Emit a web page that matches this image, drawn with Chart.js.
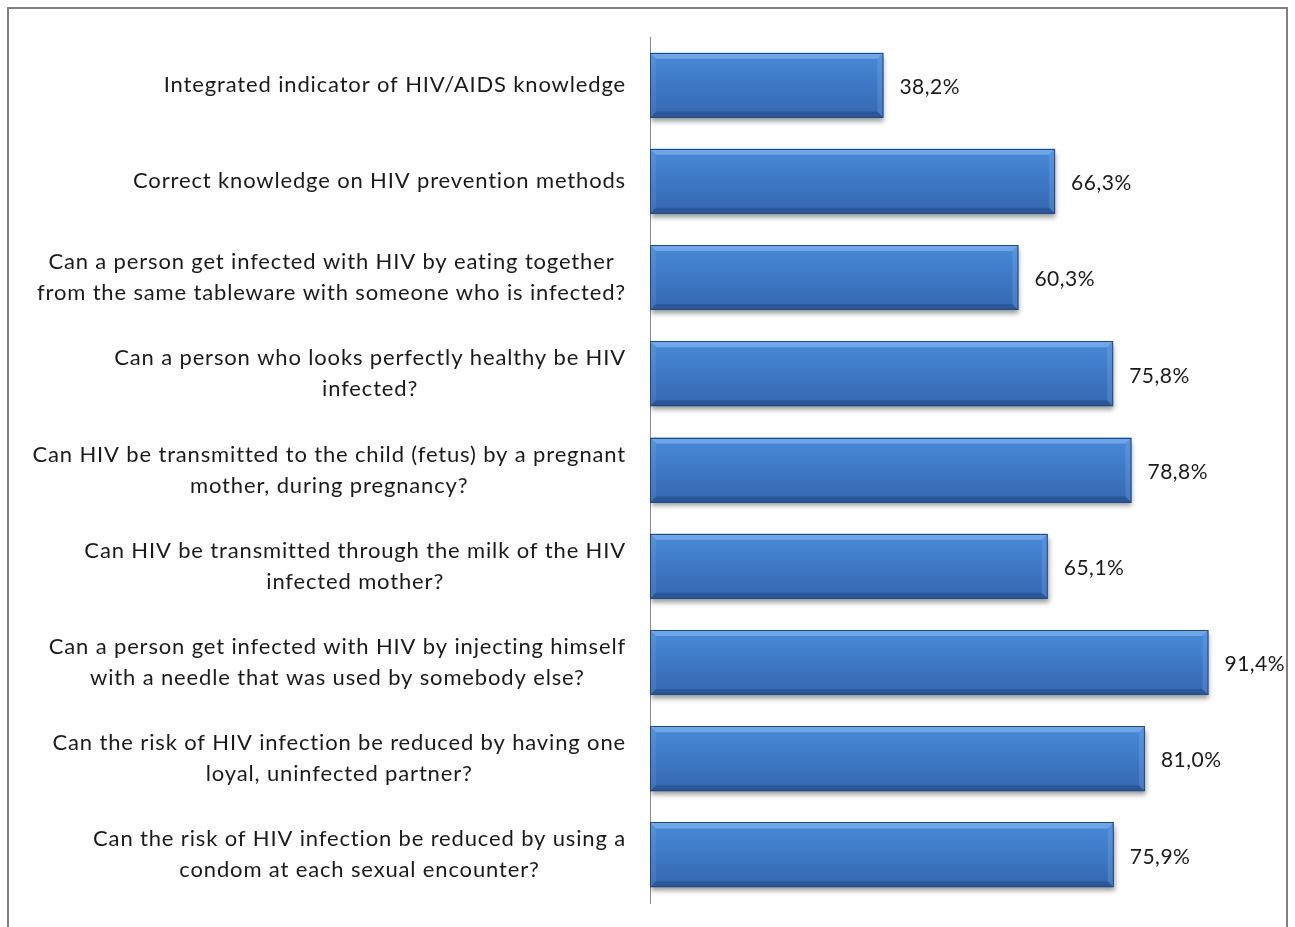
<!DOCTYPE html>
<html>
<head>
<meta charset="utf-8">
<script src="https://cdn.jsdelivr.net/npm/chart.js@4/dist/chart.umd.min.js"></script>
<style>
  html, body { margin: 0; padding: 0; background: #ffffff; overflow: hidden; }
  #frame { position: absolute; left: 7px; top: 7px; width: 1281px; height: 960px; border: 2px solid #808080; box-sizing: border-box; }
  #wrap { position: absolute; left: 0; top: 0; width: 1295px; height: 927px; }
</style>
</head>
<body>
<div id="frame"></div>
<div id="wrap"><canvas id="c" width="1295" height="927"></canvas></div>
<script>
const categories = [
  ["Integrated indicator of HIV/AIDS knowledge"],
  ["Correct knowledge on HIV prevention methods"],
  ["Can a person get infected with HIV by eating together", "from the same tableware with someone who is infected?"],
  ["Can a person who looks perfectly healthy be HIV", "infected?"],
  ["Can HIV be transmitted to the child (fetus) by a pregnant", "mother, during pregnancy?"],
  ["Can HIV be transmitted through the milk of the HIV", "infected mother?"],
  ["Can a person get infected with HIV by injecting himself", "with a needle that was used by somebody else?"],
  ["Can the risk of HIV infection be reduced by having one", "loyal, uninfected partner?"],
  ["Can the risk of HIV infection be reduced by using a", "condom at each sexual encounter?"]
];
const values = [38.2, 66.3, 60.3, 75.8, 78.8, 65.1, 91.4, 81.0, 75.9];
const valueLabels = values.map(v => v.toFixed(1).replace('.', ',') + '%');

const LABEL_FONT = '22px Lato, "Open Sans", sans-serif';
const VALUE_FONT = '21px Lato, "Open Sans", sans-serif';
const BAR_PCT = 0.675;

function barGradient(ctx) {
  const chart = ctx.chart;
  const ys = chart.scales.y;
  const ca = chart.chartArea;
  if (!ys || !ca) return '#3d75c2';
  const band = (ca.bottom - ca.top) / categories.length;
  const yc = ys.getPixelForValue(ctx.dataIndex);
  const h = band * BAR_PCT;
  const g = chart.ctx.createLinearGradient(0, yc - h / 2, 0, yc + h / 2);
  g.addColorStop(0, '#4a8ad8');
  g.addColorStop(0.5, '#3e78c5');
  g.addColorStop(1, '#3567b0');
  return g;
}

const shadowPlugin = {
  id: 'shadow',
  beforeDatasetsDraw(chart) {
    const c = chart.ctx;
    c.save();
    c.shadowColor = 'rgba(0,0,0,0.4)';
    c.shadowBlur = 5;
    c.shadowOffsetX = 1;
    c.shadowOffsetY = 4;
  },
  afterDatasetsDraw(chart) {
    chart.ctx.restore();
    const c = chart.ctx;
    const meta = chart.getDatasetMeta(0);
    meta.data.forEach((el) => {
      const l = el.base, r = el.x, t = el.y - el.height / 2, b = el.y + el.height / 2;
      const d = 6;
      const poly = (pts, fill) => {
        c.beginPath();
        c.moveTo(pts[0][0], pts[0][1]);
        for (let k = 1; k < pts.length; k++) c.lineTo(pts[k][0], pts[k][1]);
        c.closePath();
        c.fillStyle = fill;
        c.fill();
      };
      c.save();
      poly([[l, t], [r, t], [r - d, t + d], [l + d, t + d]], 'rgba(160,205,255,0.45)');
      poly([[l, t], [l + d, t + d], [l + d, b - d], [l, b]], 'rgba(255,255,255,0.07)');
      poly([[r, t], [r, b], [r - d, b - d], [r - d, t + d]], 'rgba(140,190,250,0.22)');
      poly([[l, b], [r, b], [r - d, b - d], [l + d, b - d]], 'rgba(10,30,70,0.24)');
      c.strokeStyle = '#22497f';
      c.lineWidth = 1;
      c.strokeRect(l + 0.5, Math.round(t) + 0.5, r - l - 1, Math.round(b - t) - 1);
      c.restore();
    });
    c.save();
    c.font = VALUE_FONT;
    c.letterSpacing = '0.5px';
    c.fillStyle = '#1a1a1a';
    c.textBaseline = 'middle';
    c.textAlign = 'left';
    meta.data.forEach((el, i) => {
      c.fillText(valueLabels[i], el.x + 16, el.y + 2);
    });
    c.restore();
  }
};

const labelPlugin = {
  id: 'catLabels',
  afterDraw(chart) {
    const c = chart.ctx;
    const ys = chart.scales.y;
    const rightEdge = chart.chartArea.left - 24;
    const lineH = 31;
    c.save();
    c.font = LABEL_FONT;
    c.letterSpacing = '0.85px';
    c.fillStyle = '#1a1a1a';
    c.textBaseline = 'middle';
    c.textAlign = 'center';
    categories.forEach((lines, i) => {
      const yc = ys.getPixelForValue(i);
      const w = Math.max(...lines.map(l => c.measureText(l).width));
      const cx = rightEdge - w / 2;
      const y0 = yc - (lines.length - 1) * lineH / 2;
      lines.forEach((l, k) => c.fillText(l, cx, y0 + k * lineH));
    });
    c.restore();
  }
};

new Chart(document.getElementById('c'), {
  type: 'bar',
  data: {
    labels: categories,
    datasets: [{
      data: values,
      backgroundColor: barGradient,
      borderWidth: 0,
      borderSkipped: false,
      barPercentage: BAR_PCT,
      categoryPercentage: 1.0
    }]
  },
  options: {
    indexAxis: 'y',
    responsive: false,
    animation: false,
    devicePixelRatio: 1,
    layout: { padding: { left: 650, right: 34, top: 37, bottom: 24 } },
    plugins: { legend: { display: false }, tooltip: { enabled: false } },
    scales: {
      x: {
        min: 0, max: 100,
        display: false
      },
      y: {
        grid: { display: false, drawTicks: false },
        border: { display: true, color: '#8c8c8c', width: 1 },
        ticks: { display: false }
      }
    }
  },
  plugins: [shadowPlugin, labelPlugin]
});
</script>
</body>
</html>
